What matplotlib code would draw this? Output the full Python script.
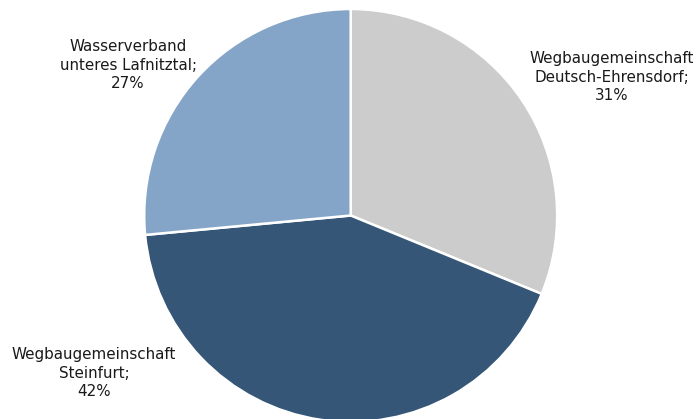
import matplotlib
matplotlib.use("Agg")
import matplotlib.pyplot as plt

labels = ["Wegbaugemeinschaft\nDeutsch-Ehrensdorf;\n31%",
          "Wegbaugemeinschaft\nSteinfurt;\n42%",
          "Wasserverband\nunteres Lafnitztal;\n27%"]
values = [31.2, 42.3, 26.5]
colors = ["#CCCCCC", "#355677", "#84A5C8"]
label_pos = [(612, 77), (94, 373), (128, 65)]

W, H = 696, 419
fig = plt.figure(figsize=(W / 100, H / 100), dpi=100)
ax = fig.add_axes([0, 0, 1, 1])
ax.pie(values, colors=colors, startangle=90, counterclock=False,
       center=(350.7, H - 215.5), radius=206.5, frame=True,
       wedgeprops=dict(edgecolor="white", linewidth=1.8))
ax.set_xlim(0, W)
ax.set_ylim(0, H)
ax.set_aspect("auto")
ax.axis("off")

for lab, (x, y) in zip(labels, label_pos):
    ax.text(x, H - y, lab, ha="center", va="center", fontsize=10.9,
            color="#1a1a1a", linespacing=1.3, family="DejaVu Sans")

fig.savefig("out.png", dpi=100)
